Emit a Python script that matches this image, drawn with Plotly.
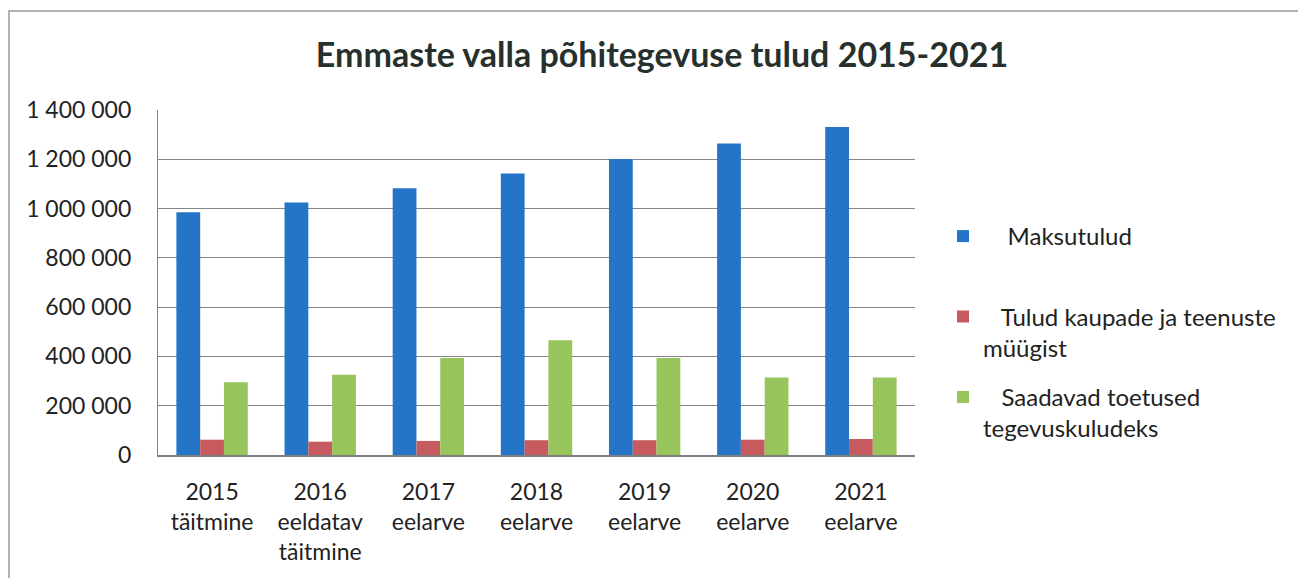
import plotly.graph_objects as go

categories = ["2015<br>täitmine", "2016<br>eeldatav<br>täitmine", "2017<br>eelarve",
              "2018<br>eelarve", "2019<br>eelarve", "2020<br>eelarve", "2021<br>eelarve"]
maksutulud = [985000, 1025000, 1082000, 1142000, 1201000, 1264000, 1331000]
tulud_myygist = [62000, 54000, 57000, 60000, 60000, 62000, 65000]
toetused = [295000, 326000, 394000, 466000, 394000, 315000, 315000]

NB = "\u00a0"
series_names = [NB * 4 + "Maksutulud<br>" + NB,
                NB * 3 + "Tulud kaupade ja teenuste<br>müügist",
                NB * 3 + "Saadavad toetused<br>tegevuskuludeks"]
colors = ["#2475C8", "#C75A5E", "#98C45C"]
y_ticks = [0, 200000, 400000, 600000, 800000, 1000000, 1200000, 1400000]

FONT = "Lato"

fig = go.Figure()
for i, (name, vals, col) in enumerate(zip(series_names, [maksutulud, tulud_myygist, toetused], colors)):
    fig.add_trace(go.Bar(x=categories, y=vals, name=name, marker=dict(color=col, line=dict(width=0)),
                         legendgroup=f"g{i}"))

# figure coordinates (page has an 8px body margin)
W, H = 1298, 570
L, R, T, B = 150, 907, 102, 447
pw, ph = R - L, B - T

fig.update_layout(
    width=W, height=H,
    margin=dict(l=L, r=W - R, t=T, b=H - B, pad=0),
    paper_bgcolor="white", plot_bgcolor="white",
    separators=", ",
    barmode="group", bargap=0.34, bargroupgap=0,
    font=dict(family=FONT, size=22, color="#222222"),
    title=dict(text="<b>Emmaste valla põhitegevuse tulud 2015-2021</b>",
               font=dict(family=FONT, size=34, color="#26302c"),
               x=654 / W, xanchor="center", y=1 - 47 / H, yanchor="middle"),
    legend=dict(x=(935 - L) / pw, xanchor="left", y=(B - 206) / ph, yanchor="top",
                valign="top", tracegroupgap=15, traceorder="grouped",
                font=dict(family=FONT, size=24, color="#222222"), bgcolor="rgba(0,0,0,0)"),
    showlegend=True,
    xaxis=dict(showgrid=False, showline=True, linecolor="#7f7f7f", linewidth=1.5,
               ticks="", tickfont=dict(size=23), ticklabelstandoff=16, fixedrange=True),
    yaxis=dict(range=[0, 1400000], tickvals=y_ticks, tickformat=",d",
               showgrid=True, gridcolor="#858585", gridwidth=1.2,
               showline=True, linecolor="#858585", linewidth=1.2,
               ticks="", tickfont=dict(size=23), ticklabelstandoff=21, zeroline=False),
    shapes=[dict(type="rect", xref="paper", yref="paper",
                 x0=(1 - L) / pw, x1=(W + 20 - L) / pw,
                 y0=(B - (H + 20)) / ph, y1=(B - 3) / ph,
                 line=dict(color="#9a9a9a", width=1.5), fillcolor="rgba(0,0,0,0)", layer="below")],
)

fig.write_html("out.html")
